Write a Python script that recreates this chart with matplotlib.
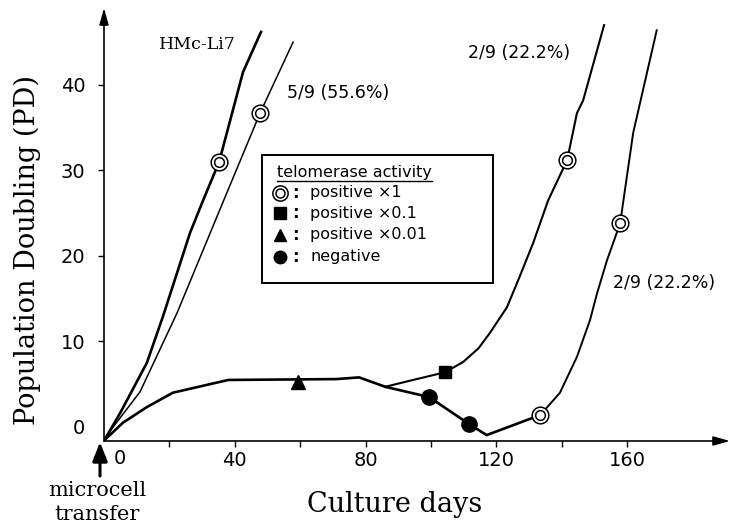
import matplotlib
matplotlib.use("Agg")
import matplotlib.pyplot as plt
from matplotlib.lines import Line2D
from matplotlib.patches import Rectangle, FancyArrowPatch

# curves: (culture days, population doublings)
hmc_days = [0, 4.9, 13.1, 18.0, 26.3, 30.3, 35.2, 42.5, 48.0]
hmc_pd = [-1.6, 1.6, 7.5, 12.9, 22.7, 26.5, 31.0, 41.5, 46.2]

clone5_days = [0, 2.8, 11.0, 22.3, 36.6, 47.7, 57.8]
clone5_pd = [-1.6, 0.0, 4.1, 13.3, 26.5, 36.7, 45.0]

plateau_days = [0, 5.8, 13.0, 21.0, 38.0, 71.0, 78.0, 86.0]
plateau_pd = [-1.6, 0.5, 2.3, 4.0, 5.5, 5.6, 5.8, 4.7]

upper_days = [86.0, 94.5, 104.3, 109.8, 114.5, 118.0, 123.2, 127.0, 131.2, 135.8,
              141.6, 144.6, 146.5, 152.9]
upper_pd = [4.7, 5.5, 6.4, 7.6, 9.2, 11.0, 14.0, 17.5, 21.5, 26.5,
            31.2, 36.7, 38.2, 47.0]

lower_days = [86.0, 99.4, 111.6, 117.0, 133.4]
lower_pd = [4.7, 3.5, 0.35, -0.95, 1.4]

right_days = [133.4, 139.4, 144.6, 148.6, 150.8, 153.8, 157.8, 161.8, 169.0]
right_pd = [1.4, 4.0, 8.2, 12.5, 15.7, 19.5, 23.8, 34.4, 46.4]

# telomerase assay points
pos1_days = [35.2, 47.7, 141.6, 133.4, 157.8]
pos1_pd = [31.0, 36.7, 31.2, 1.4, 23.8]
pos01_days = [104.3]
pos01_pd = [6.4]
pos001_days = [59.3]
pos001_pd = [5.3]
neg_days = [99.4, 111.6]
neg_pd = [3.5, 0.35]

legend_labels = ["positive \u00d71", "positive \u00d70.1", "positive \u00d70.01", "negative"]

xtick_pos = [20, 40, 60, 80, 100, 120, 140, 160]
xtick_labels = ["", "40", "", "80", "", "120", "", "160"]
ytick_pos = [0, 10, 20, 30, 40]
ytick_labels = ["0", "10", "20", "30", "40"]

SERIF = "DejaVu Serif"
SANS = "DejaVu Sans"

fig = plt.figure(figsize=(7.33, 5.29), dpi=100)
ax = fig.add_axes([104 / 733, 1 - 441 / 529, 626 / 733, 433 / 529])
ax.set_xlim(0, 191.4)
ax.set_ylim(-1.64, 49.0)
for s in ax.spines.values():
    s.set_visible(False)

arrow = dict(arrowstyle="-|>,head_length=1.0,head_width=0.28", lw=1.2,
             color="black", shrinkA=0, shrinkB=0)
ax.annotate("", xy=(1, 0), xytext=(0, 0), xycoords="axes fraction", arrowprops=arrow)
ax.annotate("", xy=(0, 1), xytext=(0, 0), xycoords="axes fraction", arrowprops=arrow)

ax.set_xticks(xtick_pos)
ax.set_xticklabels(xtick_labels, family=SANS)
ax.set_yticks(ytick_pos)
ax.set_yticklabels(ytick_labels, family=SANS)
ax.tick_params(direction="out", length=4.5, width=1, labelsize=14)
ax.tick_params(axis="x", pad=3)
ax.tick_params(axis="y", pad=9)
ax.yaxis.get_major_ticks()[0].tick1line.set_visible(False)
ax.annotate("0", xy=(4.9, 0), xycoords=("data", "axes fraction"), xytext=(0, -6),
            textcoords="offset points", ha="center", va="top", fontsize=14, family=SANS)

# curves
ax.plot(hmc_days, hmc_pd, color="black", lw=1.9, solid_joinstyle="round")
ax.plot(clone5_days, clone5_pd, color="black", lw=1.1, solid_joinstyle="round")
ax.plot(plateau_days, plateau_pd, color="black", lw=1.9, solid_joinstyle="round")
ax.plot(upper_days, upper_pd, color="black", lw=1.5, solid_joinstyle="round")
ax.plot(lower_days, lower_pd, color="black", lw=1.9, solid_joinstyle="round")
ax.plot(right_days, right_pd, color="black", lw=1.4, solid_joinstyle="round")

# markers
ax.plot(pos1_days, pos1_pd, "o", ms=12, mfc="white", mec="black", mew=1.1, zorder=5)
ax.plot(pos1_days, pos1_pd, "o", ms=7, mfc="none", mec="black", mew=1.1, zorder=6)
ax.plot(pos01_days, pos01_pd, "s", ms=8.5, color="black", zorder=5)
ax.plot(pos001_days, pos001_pd, "^", ms=10, color="black", zorder=5)
ax.plot(neg_days, neg_pd, "o", ms=11, color="black", zorder=5)

# curve labels
ax.text(28.7, 44.7, "HMc-Li7", family=SERIF, fontsize=12.5, ha="center", va="center")
ax.text(56.0, 39.1, "5/9 (55.6%)", family=SANS, fontsize=12.5, ha="left", va="center")
ax.text(111.3, 43.7, "2/9 (22.2%)", family=SANS, fontsize=12.5, ha="left", va="center")
ax.text(155.7, 16.8, "2/9 (22.2%)", family=SANS, fontsize=12.5, ha="left", va="center")

# legend box drawn by hand
ax.add_patch(Rectangle((48.3, 16.8), 119.0 - 48.3, 31.8 - 16.8, fill=True, fc="white",
                       ec="black", lw=1.4, zorder=7))
title = ax.text(52.9, 29.8, "telomerase activity", family=SANS, fontsize=11.5,
                ha="left", va="center", zorder=8)
row_pd = [27.4, 25.0, 22.5, 19.9]
row_marks = ["o", "s", "^", "o"]
for yy, mk, lab in zip(row_pd, row_marks, legend_labels):
    if lab == legend_labels[0]:
        ax.plot([53.8], [yy], "o", ms=11, mfc="white", mec="black", mew=1.1, zorder=8)
        ax.plot([53.8], [yy], "o", ms=6.5, mfc="none", mec="black", mew=1.1, zorder=9)
    else:
        ax.plot([53.8], [yy], mk, ms=9 if mk != "s" else 8, color="black", zorder=8)
    ax.text(58.5, yy, ":", family=SANS, fontsize=12, ha="center", va="center", zorder=8,
            fontweight="bold")
    ax.text(63.0, yy, lab, family=SANS, fontsize=11.5, ha="left", va="center", zorder=8)

fig.canvas.draw()
bb = title.get_window_extent()
fig.add_artist(Line2D([bb.x0 / fig.bbox.width, bb.x1 / fig.bbox.width],
                      [(bb.y0 - 1) / fig.bbox.height] * 2, transform=fig.transFigure,
                      color="black", lw=1.0, zorder=10))

# axis titles
fig.text(27 / 733, 1 - 250 / 529, "Population Doubling (PD)", family=SERIF, fontsize=19.5,
         rotation=90, ha="center", va="center")
fig.text(307 / 733, 1 - 505 / 529, "Culture days", family=SERIF, fontsize=19.5,
         ha="left", va="center")
fig.text(97 / 733, 1 - 490 / 529, "microcell", family=SERIF, fontsize=15,
         ha="center", va="center")
fig.text(97 / 733, 1 - 515 / 529, "transfer", family=SERIF, fontsize=15,
         ha="center", va="center")

# arrow marking the day of microcell transfer
fig.add_artist(FancyArrowPatch(
    (100 / 733, 1 - 476 / 529), (100 / 733, 1 - 442 / 529), transform=fig.transFigure,
    arrowstyle="-|>,head_length=1.15,head_width=0.45", lw=2.2, color="black",
    mutation_scale=10, shrinkA=0, shrinkB=0))

fig.savefig("out.png", dpi=100)
